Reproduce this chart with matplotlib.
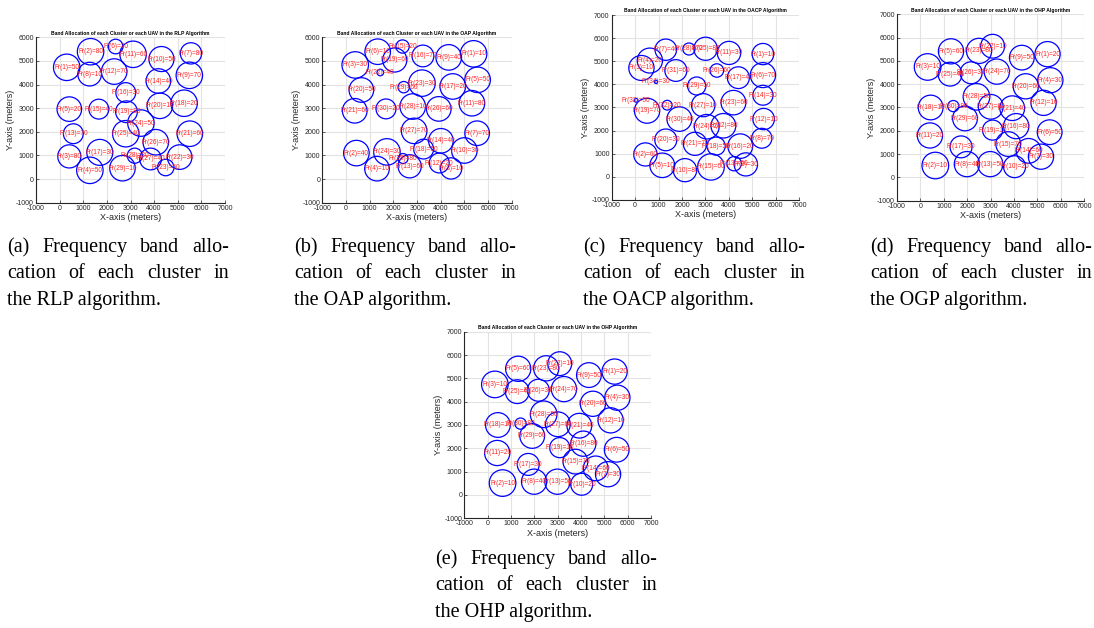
import matplotlib
matplotlib.use("Agg")
import matplotlib.pyplot as plt
from matplotlib.patches import Circle

plt.rcParams["axes.unicode_minus"] = False

# -----------------------------------------------------------------------------
# data (cluster centres / radii in meters, band per cluster)
# -----------------------------------------------------------------------------

# (a) RLP
a_x = [300, 1310, 410, 1280, 410, 2370, 5560, 1270, 5490, 4310, 3110, 2310, 580, 4180, 1660,
       2800, 1700, 5270, 2830, 4240, 5510, 5080, 4490, 3440, 2800, 4070, 3850, 3180, 2660]
a_y = [4730, 5390, 960, 370, 2960, 5610, 5320, 4440, 4390, 5080, 5280, 4550, 1920, 4150, 2960,
       3660, 1130, 3210, 2850, 3100, 1920, 930, 490, 2370, 1920, 1560, 850, 990, 460]
a_r = [560, 560, 490, 560, 520, 310, 450, 500, 560, 530, 560, 540, 420, 520, 420,
       420, 550, 560, 460, 540, 540, 520, 350, 560, 560, 540, 460, 320, 540]
a_band = [50, 80, 80, 50, 20, 20, 80, 10, 70, 50, 60, 70, 70, 40, 40,
          30, 30, 20, 80, 10, 60, 30, 50, 50, 40, 70, 40, 30, 10]

# (b) OAP
b_x = [5390, 440, 390, 1310, 5560, 1340, 5540, 4440, 4340, 5000, 5320, 3940, 2690, 4010, 2390,
       3250, 4510, 3280, 2060, 650, 370, 1450, 3210, 1730, 2410, 3920, 2880, 2820, 2440, 1690]
b_y = [5300, 1100, 4830, 440, 4200, 5390, 1940, 450, 5150, 1210, 3210, 680, 540, 1620, 5610,
       5210, 3920, 1270, 5040, 3770, 2890, 4510, 4060, 1150, 870, 2970, 2040, 3070, 3890, 2970]
b_r = [560, 540, 560, 520, 540, 540, 520, 450, 540, 540, 540, 420, 490, 520, 280,
       460, 540, 420, 510, 520, 520, 140, 560, 560, 210, 520, 540, 540, 240, 420]
b_band = [10, 40, 30, 10, 50, 10, 70, 10, 40, 30, 80, 20, 60, 40, 20,
          70, 20, 50, 60, 50, 60, 40, 30, 30, 80, 60, 70, 10, 60, 20]

# (c) OACP
c_x = [5460, 440, 270, 630, 1160, 5460, 1310, 5410, 4730, 2130, 4010, 5490, 4230, 5460, 3240, 4490, 4410,
       3460, 510, 1310, 2560, 3770, 4200, 3060, 3010, 3490, 2910, 2300, 2630, 1890, 1740, 1370, 40, 890]
c_y = [5310, 970, 4710, 5030, 500, 4400, 5500, 1670, 540, 290, 5360, 2500, 570, 3530, 430, 1330, 4290,
       1330, 2860, 1600, 1430, 2210, 3210, 2170, 5540, 4600, 3100, 5530, 3930, 2500, 4600, 3100, 3310, 4110]
c_r = [460, 500, 540, 540, 530, 540, 460, 430, 500, 500, 500, 460, 310, 430, 570, 530, 470,
       390, 540, 470, 500, 530, 530, 530, 500, 290, 500, 260, 390, 530, 470, 210, 80, 70]
c_band = [10, 60, 10, 20, 10, 70, 40, 70, 30, 80, 30, 10, 50, 30, 60, 20, 40,
          50, 70, 30, 70, 80, 60, 20, 80, 60, 10, 70, 50, 40, 60, 20, 50, 30]

# (d) and (e) OHP
d_x = [5440, 640, 310, 5560, 1310, 5530, 5160, 1990, 4340, 4030, 410, 5270, 2990, 4630, 3760,
       4100, 1740, 440, 3090, 4510, 3930, 3090, 2510, 3270, 1270, 2170, 3010, 2400, 1910, 1410]
d_y = [5290, 510, 4740, 4170, 5410, 1940, 890, 570, 5140, 460, 1800, 3200, 570, 1140, 1430,
       2200, 1310, 3000, 2030, 3910, 2970, 5630, 5430, 4540, 4430, 4490, 3030, 3460, 2530, 3060]
d_r = [540, 570, 570, 540, 540, 530, 540, 540, 530, 470, 540, 540, 540, 530, 530,
       540, 470, 530, 430, 540, 530, 510, 540, 540, 510, 470, 530, 570, 530, 240]
d_band = [20, 10, 10, 30, 60, 50, 30, 40, 50, 20, 20, 10, 50, 60, 70,
          80, 30, 10, 10, 60, 40, 10, 80, 70, 40, 30, 60, 50, 60, 80]

titles = ["RLP", "OAP", "OACP", "OHP", "OHP"]
captions = [
    ["(a) Frequency band allo-", "cation of each cluster in", "the RLP algorithm."],
    ["(b) Frequency band allo-", "cation of each cluster in", "the OAP algorithm."],
    ["(c) Frequency band allo-", "cation of each cluster in", "the OACP algorithm."],
    ["(d) Frequency band allo-", "cation of each cluster in", "the OGP algorithm."],
    ["(e) Frequency band allo-", "cation of each cluster in", "the OHP algorithm."],
]

# -----------------------------------------------------------------------------
# layout (pixel boxes: left, right, top, bottom)
# -----------------------------------------------------------------------------
W, H = 1094, 628
boxes = [(36, 225, 37.3, 202.7), (322.3, 511.7, 37.3, 202.7), (611.7, 799, 15, 200),
         (897, 1084, 14.3, 200.7), (464.3, 651, 331.7, 518.3)]
ymax = [6000, 6000, 7000, 7000, 7000]
cap_pos = [(7, 229, 252), (294, 516, 252), (583, 805, 252), (870, 1092, 252), (435, 657, 564)]

panels = [(a_x, a_y, a_r, a_band), (b_x, b_y, b_r, b_band), (c_x, c_y, c_r, c_band),
          (d_x, d_y, d_r, d_band), (d_x, d_y, d_r, d_band)]

fig = plt.figure(figsize=(W / 100, H / 100), dpi=100)
fig.patch.set_facecolor("white")

for k, (xs, ys, rs, bands) in enumerate(panels):
    l, r, t, b = boxes[k]
    ax = fig.add_axes([l / W, 1 - b / H, (r - l) / W, (b - t) / H])
    for i in range(len(xs)):
        ax.add_patch(Circle((xs[i], ys[i]), rs[i], fill=False, ec="blue", lw=0.9))
        ax.text(xs[i], ys[i], f"Fr({i + 1})={bands[i]}", color="#ff2020", fontsize=4.7,
                ha="center", va="center", family="Liberation Sans")
    ax.set_xlim(-1000, 7000)
    ax.set_ylim(-1000, ymax[k])
    ax.set_xticks(range(-1000, 7001, 1000))
    ax.set_yticks(range(-1000, ymax[k] + 1, 1000))
    ax.grid(True, color="#e3e3e3", lw=0.8)
    ax.set_axisbelow(True)
    for s in ["top", "right"]:
        ax.spines[s].set_visible(False)
    for s in ["left", "bottom"]:
        ax.spines[s].set_linewidth(0.8)
        ax.spines[s].set_color("#262626")
    ax.tick_params(direction="in", length=2, width=0.5, labelsize=5, pad=1.5, colors="#262626")
    for lab in ax.get_xticklabels() + ax.get_yticklabels():
        lab.set_family("Liberation Sans")
    ax.set_xlabel("X-axis (meters)", fontsize=6.5, labelpad=1, family="Liberation Sans", color="#262626")
    ax.set_ylabel("Y-axis (meters)", fontsize=6.5, labelpad=1, family="Liberation Sans", color="#262626")
    ax.set_title(f"Band Allocation of each Cluster or each UAV in the {titles[k]} Algorithm",
                 fontsize=3.6, fontweight="bold", pad=2, family="Liberation Sans")

# captions, justified like the paper
renderer = fig.canvas.get_renderer()
for k, lines in enumerate(captions):
    x0, x1, y0 = cap_pos[k]
    for j, line in enumerate(lines):
        yb = 1 - (y0 + j * 26.5) / H
        kw = dict(fontsize=14.5, family="Liberation Serif", va="baseline", ha="left")
        if j == len(lines) - 1:
            fig.text(x0 / W, yb, line, **kw)
            continue
        words = line.split()
        objs = [fig.text(0, yb, w_, **kw) for w_ in words]
        widths = [o.get_window_extent(renderer).width for o in objs]
        gap = (x1 - x0 - sum(widths)) / (len(words) - 1)
        xc = x0
        for o, wd in zip(objs, widths):
            o.set_x(xc / W)
            xc += wd + gap

fig.savefig("out.png", dpi=100)
